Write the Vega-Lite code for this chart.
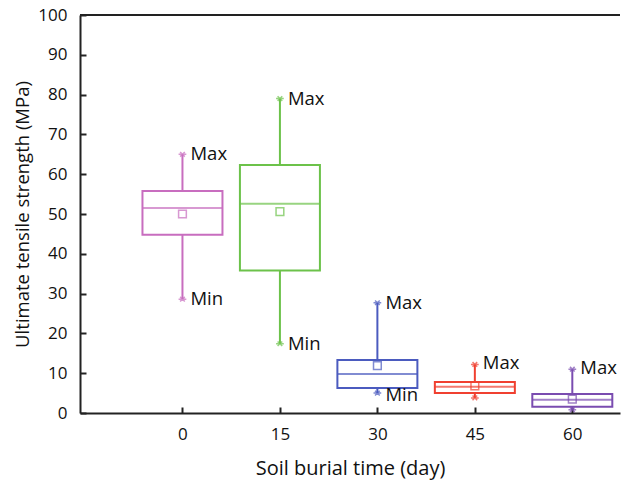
{
  "$schema": "https://vega.github.io/schema/vega-lite/v6.json",
  "width": 540,
  "height": 398,
  "autosize": "none",
  "padding": {"left": 80, "top": 15, "right": 4, "bottom": 68},
  "background": "white",
  "config": {
    "view": {"stroke": null},
    "font": "Open Sans",
    "axis": {
      "domainColor": "#222",
      "domainWidth": 2,
      "tickColor": "#222",
      "tickWidth": 2,
      "grid": false,
      "labelFont": "Open Sans",
      "titleFont": "Open Sans",
      "labelFontSize": 17,
      "titleFontSize": 18.5,
      "labelColor": "#111",
      "titleColor": "#111",
      "titleFontWeight": "normal"
    }
  },
  "datasets": {
    "boxes": [
      {"day": 0, "min": 28.6, "q1": 44.8, "median": 51.5, "q3": 55.8, "max": 65.0, "mean": 50.0},
      {"day": 15, "min": 17.4, "q1": 35.8, "median": 52.6, "q3": 62.3, "max": 79.0, "mean": 50.6},
      {"day": 30, "min": 5.0, "q1": 6.3, "median": 9.8, "q3": 13.3, "max": 27.7, "mean": 11.9},
      {"day": 45, "min": 3.8, "q1": 5.0, "median": 6.6, "q3": 7.8, "max": 12.2, "mean": 6.8},
      {"day": 60, "min": 0.8, "q1": 1.6, "median": 3.3, "q3": 4.8, "max": 11.0, "mean": 3.5}
    ],
    "labels": [
      {"day": 0, "value": 65.0, "label": "Max"},
      {"day": 0, "value": 28.6, "label": "Min"},
      {"day": 15, "value": 79.0, "label": "Max"},
      {"day": 15, "value": 17.4, "label": "Min"},
      {"day": 30, "value": 27.7, "label": "Max"},
      {"day": 30, "value": 4.5, "label": "Min"},
      {"day": 45, "value": 12.6, "label": "Max"},
      {"day": 60, "value": 11.2, "label": "Max"}
    ]
  },
  "encoding": {
    "x": {
      "field": "day",
      "type": "quantitative",
      "scale": {"domain": [-15, 66.57], "nice": false, "zero": false},
      "axis": {
        "title": "Soil burial time (day)",
        "titleFontSize": 20,
        "values": [0, 15, 30, 45, 60],
        "tickSize": -6,
        "labelPadding": 19,
        "titlePadding": 16
      }
    }
  },
  "layer": [
    {
      "data": {"name": "boxes"},
      "mark": {"type": "rule", "strokeWidth": 2},
      "encoding": {
        "y": {
          "field": "min",
          "type": "quantitative",
          "scale": {"domain": [0, 100], "nice": false},
          "axis": {
            "title": "Ultimate tensile strength (MPa)",
            "tickCount": 10,
            "tickSize": -6,
            "labelPadding": 19,
            "titlePadding": 5,
            "labelOverlap": false,
            "labelSeparation": 0
          }
        },
        "y2": {"field": "max"},
        "stroke": {
          "field": "day",
          "type": "nominal",
          "scale": {"domain": [0, 15, 30, 45, 60], "range": ["#c86dbf", "#6cc24a", "#4b5bbf", "#f04030", "#7a4cb0"]},
          "legend": null
        }
      }
    },
    {
      "data": {"name": "boxes"},
      "mark": {"type": "bar", "size": 80, "fill": "white", "strokeWidth": 2},
      "encoding": {
        "y": {"field": "q1", "type": "quantitative"},
        "y2": {"field": "q3"},
        "stroke": {"field": "day", "type": "nominal", "legend": null}
      }
    },
    {
      "data": {"name": "boxes"},
      "mark": {"type": "tick", "orient": "horizontal", "size": 80, "thickness": 2},
      "encoding": {
        "y": {"field": "median", "type": "quantitative"},
        "color": {
          "field": "day",
          "type": "nominal",
          "scale": {"domain": [0, 15, 30, 45, 60], "range": ["#c86dbf", "#6cc24a", "#4b5bbf", "#f04030", "#7a4cb0"]},
          "legend": null
        }
      }
    },
    {
      "data": {"name": "boxes"},
      "mark": {"type": "point", "shape": "square", "filled": false, "size": 60, "strokeWidth": 1.5},
      "encoding": {
        "y": {"field": "mean", "type": "quantitative"},
        "color": {"field": "day", "type": "nominal", "legend": null}
      }
    },
    {
      "data": {"name": "boxes"},
      "mark": {"type": "point", "shape": "M-1,0L1,0M-0.6,-0.6L0.6,0.6M-0.6,0.6L0.6,-0.6", "filled": false, "size": 60, "strokeWidth": 1.5},
      "encoding": {
        "y": {"field": "max", "type": "quantitative"},
        "color": {"field": "day", "type": "nominal", "legend": null}
      }
    },
    {
      "data": {"name": "boxes"},
      "mark": {"type": "point", "shape": "M-1,0L1,0M-0.6,-0.6L0.6,0.6M-0.6,0.6L0.6,-0.6", "filled": false, "size": 60, "strokeWidth": 1.5},
      "encoding": {
        "y": {"field": "min", "type": "quantitative"},
        "color": {"field": "day", "type": "nominal", "legend": null}
      }
    },
    {
      "data": {"name": "labels"},
      "mark": {"type": "text", "align": "left", "baseline": "middle", "dx": 8, "fontSize": 18.5, "font": "Open Sans", "color": "#111"},
      "encoding": {
        "y": {"field": "value", "type": "quantitative"},
        "text": {"field": "label"}
      }
    },
    {
      "data": {"values": [{}]},
      "mark": {"type": "rule", "strokeWidth": 2, "color": "#222"},
      "encoding": {
        "y": {"datum": 100, "type": "quantitative"},
        "x": null
      }
    }
  ]
}
